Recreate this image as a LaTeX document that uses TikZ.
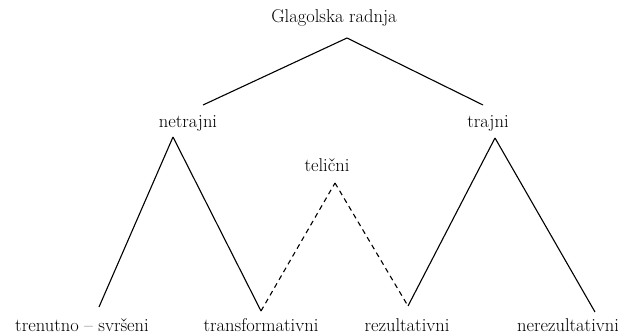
\documentclass[tikz,border=0pt]{standalone}
\usepackage{tikz}

\begin{document}
\begin{tikzpicture}[x=1pt, y=1pt,
    term/.style={inner sep=0pt, font=\fontsize{18.5}{22}\selectfont},
    branch/.style={line width=1.1pt},
    telic/.style={line width=1.1pt, dash pattern=on 5pt off 4pt}]
                    \useasboundingbox (0,0) rectangle (618,335);

                    \node (glagolska) [term] at (334,317) {Glagolska radnja};
                    \node (netrajni) [term] at (188,212) {netrajni};
                    \node (trajni) [term] at (488,212) {trajni};
                    \node (telicni) [term] at (327,170) {telični};

                    \node (trenutno) [term] at (82,10) {trenutno -- svršeni};
                    \node (transf) [term] at (261,10) {transformativni};
                    \node (rezult) [term] at (407,10) {rezultativni};
                    \node (nerezult) [term] at (568,10) {nerezultativni};

                    \coordinate (glagolska-v) at (347,297);
                    \coordinate (netrajni-up) at (203,230);
                    \coordinate (trajni-up) at (483,230);
                    \coordinate (netrajni-v) at (173,198);
                    \coordinate (trajni-v) at (495,197);
                    \coordinate (telicni-v) at (335,152);

                    \coordinate (trenutno-up) at (99,28);
                    \coordinate (transf-up) at (261,24);
                    \coordinate (rezult-up) at (408,29);
                    \coordinate (nerezult-up) at (595,23);

                    \draw[branch] (netrajni-up) -- (glagolska-v);
                    \draw[branch] (glagolska-v) -- (trajni-up);

                    \draw[branch] (trenutno-up) -- (netrajni-v);
                    \draw[branch] (netrajni-v) -- (transf-up);
                    \draw[telic] (transf-up) -- (telicni-v);
                    \draw[telic] (telicni-v) -- (rezult-up);
                    \draw[branch] (rezult-up) -- (trajni-v);
                    \draw[branch] (trajni-v) -- (nerezult-up);

                \end{tikzpicture}
\end{document}
